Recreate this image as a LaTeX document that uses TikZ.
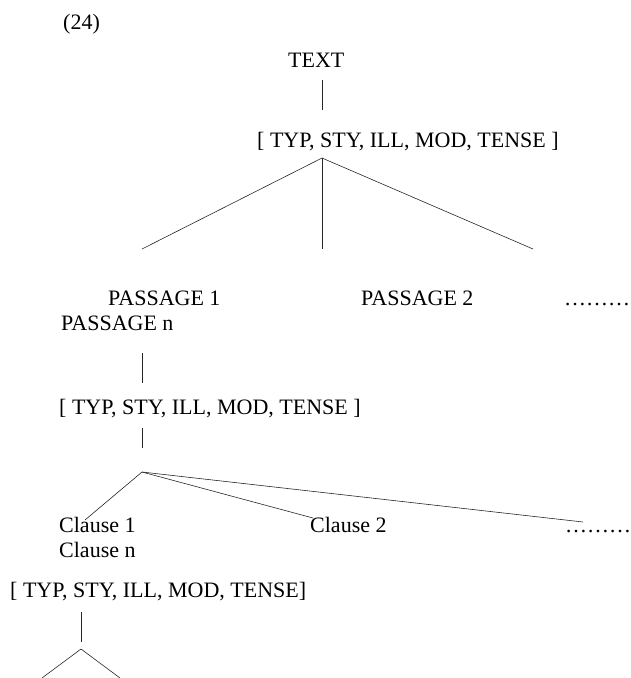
\documentclass[tikz,border=0pt]{standalone}
\usepackage{fontspec}
\setmainfont{Liberation Serif}
\begin{document}
\begin{tikzpicture}[x=1pt,y=-1pt,
  lbl/.style={inner sep=0pt,anchor=base west,font=\fontsize{22}{26}\selectfont},
  branch/.style={draw=black!85,line width=0.6pt}]
\useasboundingbox (0,0) rectangle (631,678);

% example number
\node[lbl] (num) at (63,29) {(24)};

% top level
\node[lbl] (text) at (288,67) {TEXT};
\node[lbl] (feat1) at (257,147) {[ TYP, STY, ILL, MOD, TENSE ]};
\coordinate (t1a) at (322,80);
\coordinate (t1b) at (322,110);
\coordinate (ap1) at (322,158);
\coordinate (e1a) at (142,249);
\coordinate (e1b) at (322,249);
\coordinate (e1c) at (533,249);
\draw[branch] (t1a) -- (t1b);
\draw[branch] (ap1) -- (e1a);
\draw[branch] (ap1) -- (e1b);
\draw[branch] (ap1) -- (e1c);

% passage level
\node[lbl] (p1) at (108,305) {PASSAGE 1};
\node[lbl] (p2) at (361,305) {PASSAGE 2};
\node[lbl] (pdots) at (564,305) {………};
\node[lbl] (pn) at (61,330) {PASSAGE n};
\coordinate (t2a) at (142,353);
\coordinate (t2b) at (142,383);
\draw[branch] (t2a) -- (t2b);
\node[lbl] (feat2) at (59,414) {[ TYP, STY, ILL, MOD, TENSE ]};
\coordinate (t3a) at (142,428);
\coordinate (t3b) at (142,448);
\draw[branch] (t3a) -- (t3b);

% clause level
\coordinate (ap2) at (142,472);
\coordinate (e2a) at (85,520);
\coordinate (e2b) at (313,518);
\coordinate (e2c) at (583,522);
\draw[branch] (ap2) -- (e2a);
\draw[branch] (ap2) -- (e2b);
\draw[branch] (ap2) -- (e2c);
\node[lbl] (c1) at (59,532) {Clause 1};
\node[lbl] (c2) at (310,532) {Clause 2};
\node[lbl] (cdots) at (565,532) {………};
\node[lbl] (cn) at (59,557) {Clause n};
\node[lbl] (feat3) at (10,597) {[ TYP, STY, ILL, MOD, TENSE]};
\coordinate (t4a) at (81,612);
\coordinate (t4b) at (81,642);
\draw[branch] (t4a) -- (t4b);

% lowest split
\coordinate (ap3) at (81,649);
\coordinate (e3a) at (42,678);
\coordinate (e3b) at (120,678);
\draw[branch] (ap3) -- (e3a);
\draw[branch] (ap3) -- (e3b);
\end{tikzpicture}
\end{document}
